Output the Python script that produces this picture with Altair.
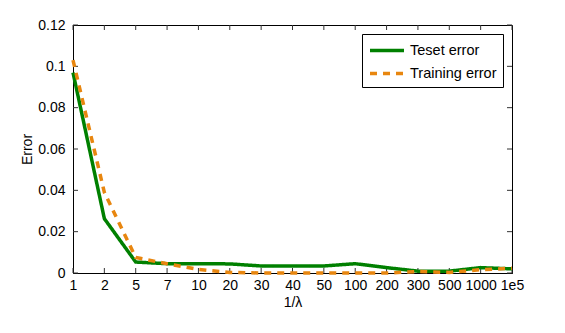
import altair as alt
import pandas as pd

cats = ["1", "2", "5", "7", "10", "20", "30", "40", "50", "100", "200", "300", "500", "1000", "1e5"]
test_err = [0.097, 0.0263, 0.0053, 0.0045, 0.0045, 0.0044, 0.0034, 0.0034, 0.0034, 0.0045, 0.0026, 0.0009, 0.0009, 0.0026, 0.0020]
train_err = [0.103, 0.039, 0.0075, 0.0045, 0.0017, 0.0003, 0.0, 0.0, 0.0, 0.0, 0.0, 0.0007, 0.0003, 0.0016, 0.0023]
series_names = ["Teset error", "Training error"]
y_ticks = [0, 0.02, 0.04, 0.06, 0.08, 0.1, 0.12]

W, H = 439, 248
FONT = "Liberation Sans"

rows = []
for name, vals in zip(series_names, [test_err, train_err]):
    for c, v in zip(cats, vals):
        rows.append({"lam": c, "err": v, "series": name})
df = pd.DataFrame(rows)
xt = pd.DataFrame({"lam": cats})
yt = pd.DataFrame({"err": y_ticks})

xscale = alt.Scale(type="point", padding=0)
yscale = alt.Scale(domain=[0, 0.12], nice=False, zero=True)

xaxis = alt.Axis(title="1/λ", ticks=False, labelPadding=5, titlePadding=3,
                 labelAngle=0, domainColor="black", grid=False)
yaxis = alt.Axis(title="Error", values=y_ticks, format=".2~f", ticks=False,
                 labelPadding=8, titlePadding=3, domainColor="black", grid=False)

X = lambda: alt.X("lam:O", sort=cats, scale=xscale, axis=xaxis)
Y = lambda: alt.Y("err:Q", scale=yscale, axis=yaxis)

lines = alt.Chart(df).mark_line(strokeWidth=3.5, strokeCap="butt").encode(
    x=X(),
    y=Y(),
    color=alt.Color("series:N", scale=alt.Scale(domain=series_names, range=["#008000", "#E8860F"]),
                    legend=alt.Legend(title=None)),
    strokeDash=alt.StrokeDash("series:N", scale=alt.Scale(domain=series_names, range=[[1, 0], [7, 6]]),
                              legend=alt.Legend(title=None)),
    order=alt.Order("series:N"),
)

tick_color = "#333333"
xt_bottom = alt.Chart(xt).mark_rule(color=tick_color).encode(x=X(), y=alt.value(H), y2=alt.value(H - 5))
xt_top = alt.Chart(xt).mark_rule(color=tick_color).encode(x=X(), y=alt.value(0), y2=alt.value(5))
yt_left = alt.Chart(yt).mark_rule(color=tick_color).encode(y=Y(), x=alt.value(0), x2=alt.value(5))
yt_right = alt.Chart(yt).mark_rule(color=tick_color).encode(y=Y(), x=alt.value(W), x2=alt.value(W - 5))

chart = alt.layer(xt_bottom, xt_top, yt_left, yt_right, lines).properties(
    width=W, height=H,
    autosize=alt.AutoSizeParams(type="none"),
    padding={"left": 65, "top": 17, "right": 45, "bottom": 50},
).configure_view(
    stroke="black", strokeWidth=1
).configure_axis(
    labelFont=FONT, titleFont=FONT, labelFontSize=14, titleFontSize=14,
    labelColor="black", titleColor="black", titleFontWeight="normal",
).configure_legend(
    orient="none", legendX=289, legendY=9,
    strokeColor="black", fillColor="white", padding=6,
    symbolType="M-1,0H3", symbolSize=289, symbolStrokeWidth=3.5,
    labelFont=FONT, labelFontSize=14.5, labelColor="black", labelOffset=21,
    rowPadding=5, cornerRadius=0,
)

chart.save("out.html", embed_options={"renderer": "svg", "actions": False})
